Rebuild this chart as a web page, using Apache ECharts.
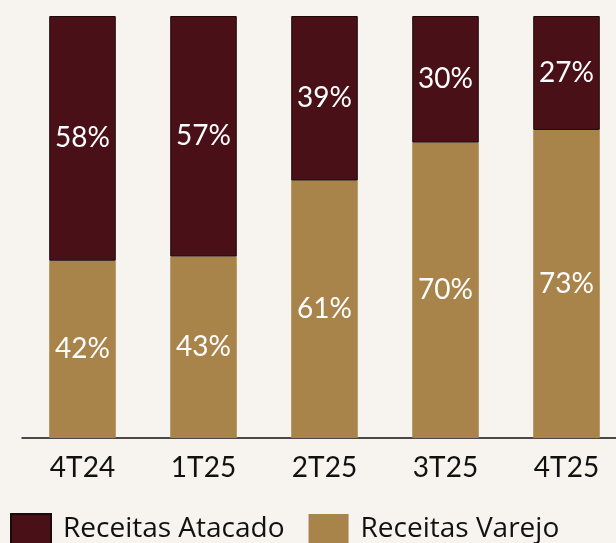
<!DOCTYPE html>
<html>
<head>
<meta charset="utf-8">
<script src="https://cdn.jsdelivr.net/npm/echarts@6/dist/echarts.min.js"></script>
<style>
  html, body { margin: 0; padding: 0; background: #f7f3ee; }
  #main { width: 616px; height: 543px; }
</style>
</head>
<body>
<div id="main"></div>
<script>
var categories = ['4T24', '1T25', '2T25', '3T25', '4T25'];
var varejo = [42, 43, 61, 70, 73];
var atacado = [58, 57, 39, 30, 27];

var myChart = echarts.init(document.getElementById('main'));
var font = 'Lato';

var option = {
    backgroundColor: '#f7f3ee',
    animation: false,
    grid: { left: 22, width: 605, top: 16, height: 422, outerBoundsMode: 'none', containLabel: false },
    legend: {
        left: 10,
        top: 513,
        padding: 0,
        itemWidth: 40,
        itemHeight: 31,
        itemGap: 24,
        icon: 'rect',
        textStyle: { fontFamily: 'Open Sans', fontSize: 28, color: '#111', padding: [0, 0, 0, 7] },
        data: ['Receitas Atacado', 'Receitas Varejo']
    },
    xAxis: {
        type: 'category',
        data: categories,
        axisLine: { lineStyle: { color: '#111', width: 1.5 } },
        axisTick: { show: false },
        axisLabel: { fontFamily: font, fontSize: 28, color: '#111', margin: 16 }
    },
    yAxis: {
        type: 'value',
        min: 0,
        max: 100,
        show: false
    },
    series: [{
        name: 'Receitas Varejo',
        type: 'bar',
        stack: 'total',
        barWidth: '55%',
        data: varejo,
        itemStyle: { color: '#a8834a' },
        label: {
            show: true,
            position: 'inside',
            formatter: '{c}%',
            fontFamily: font,
            fontSize: 28,
            color: '#fff'
        }
    }, {
        name: 'Receitas Atacado',
        type: 'bar',
        stack: 'total',
        data: atacado,
        itemStyle: { color: '#4a1017', borderColor: '#1a0a0a', borderWidth: 1 },
        label: {
            show: true,
            position: 'inside',
            formatter: '{c}%',
            fontFamily: font,
            fontSize: 28,
            color: '#fff'
        }
    }]
};

myChart.setOption(option);
</script>
</body>
</html>
